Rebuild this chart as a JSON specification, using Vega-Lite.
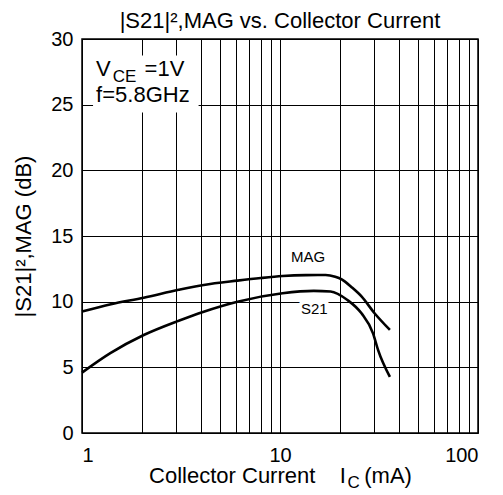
{
  "$schema": "https://vega.github.io/schema/vega-lite/v6.json",
  "width": 396,
  "height": 394,
  "autosize": "none",
  "padding": {"left": 82, "top": 39, "right": 25, "bottom": 62},
  "background": "white",
  "config": {
    "font": "Liberation Sans",
    "view": {"stroke": "black", "strokeWidth": 1.5},
    "axis": {
      "grid": true, "gridColor": "black", "gridWidth": 1, "gridOpacity": 1,
      "ticks": false, "domain": false,
      "labelColor": "black", "labelFontSize": 20, "labelFont": "Liberation Sans",
      "titleColor": "black", "titleFontSize": 22, "titleFontWeight": "normal", "titleFont": "Liberation Sans"
    }
  },
  "title": {"text": "|S21|²,MAG vs. Collector Current", "fontSize": 22, "fontWeight": "normal", "color": "black", "offset": -4, "font": "Liberation Sans"},
  "datasets": {
    "curves": [
      {"ic": 1, "db": 9.25, "series": "MAG"},
      {"ic": 1.4, "db": 9.8, "series": "MAG"},
      {"ic": 2.05, "db": 10.3, "series": "MAG"},
      {"ic": 3.08, "db": 10.9, "series": "MAG"},
      {"ic": 4.12, "db": 11.27, "series": "MAG"},
      {"ic": 6.1, "db": 11.6, "series": "MAG"},
      {"ic": 8, "db": 11.8, "series": "MAG"},
      {"ic": 10.3, "db": 11.95, "series": "MAG"},
      {"ic": 13.5, "db": 12.02, "series": "MAG"},
      {"ic": 17, "db": 12.03, "series": "MAG"},
      {"ic": 19, "db": 11.9, "series": "MAG"},
      {"ic": 20.5, "db": 11.7, "series": "MAG"},
      {"ic": 23, "db": 11.1, "series": "MAG"},
      {"ic": 25.8, "db": 10.4, "series": "MAG"},
      {"ic": 30.1, "db": 9.1, "series": "MAG"},
      {"ic": 35.9, "db": 7.85, "series": "MAG"},
      {"ic": 1, "db": 4.6, "series": "S21"},
      {"ic": 1.39, "db": 6.08, "series": "S21"},
      {"ic": 2.05, "db": 7.46, "series": "S21"},
      {"ic": 3.08, "db": 8.55, "series": "S21"},
      {"ic": 4.12, "db": 9.24, "series": "S21"},
      {"ic": 6.1, "db": 10.0, "series": "S21"},
      {"ic": 10.3, "db": 10.64, "series": "S21"},
      {"ic": 14.8, "db": 10.82, "series": "S21"},
      {"ic": 18, "db": 10.78, "series": "S21"},
      {"ic": 21.9, "db": 10.13, "series": "S21"},
      {"ic": 25.8, "db": 9.11, "series": "S21"},
      {"ic": 29.5, "db": 7.59, "series": "S21"},
      {"ic": 31.3, "db": 6.31, "series": "S21"},
      {"ic": 35.9, "db": 4.27, "series": "S21"}
    ],
    "box": [{"x1": 1.137, "x2": 3.88, "y1": 24.4, "y2": 28.75}],
    "bigtext": [
      {"ic": 1.178, "db": 27.15, "label": "V"},
      {"ic": 2.07, "db": 27.15, "label": "=1V"},
      {"ic": 1.178, "db": 25.17, "label": "f=5.8GHz"}
    ],
    "subtext": [
      {"ic": 1.43, "db": 26.75, "label": "CE"},
      {"ic": 21.9, "db": -4.22, "label": "C"}
    ],
    "curvelabels": [
      {"ic": 13.87, "db": 13.37, "label": "MAG"},
      {"ic": 14.89, "db": 9.43, "label": "S21"}
    ]
  },
  "layer": [
    {
      "data": {"name": "box"},
      "mark": {"type": "rect", "fill": "white", "stroke": null},
      "encoding": {
        "x": {"field": "x1", "type": "quantitative", "scale": {"type": "log", "domain": [1, 100], "nice": false},
              "axis": {"values": [1,2,3,4,5,6,7,8,9,10,20,30,40,50,60,70,80,90,100],
                       "labelExpr": "datum.value == 1 || datum.value == 10 || datum.value == 100 ? format(datum.value, 'd') : ''",
                       "labelPadding": 12, "title": "Collector Current\u00a0\u00a0\u00a0\u00a0I\u00a0\u00a0\u00a0(mA)", "titlePadding": 0}},
        "x2": {"field": "x2"},
        "y": {"field": "y1", "type": "quantitative", "scale": {"domain": [0, 30], "nice": false},
              "axis": {"values": [0,5,10,15,20,25,30], "labelPadding": 9, "title": "|S21|²,MAG (dB)", "titlePadding": 15}},
        "y2": {"field": "y2"}
      }
    },
    {
      "data": {"name": "curvelabels"},
      "transform": [{"filter": "datum.label == 'S21'"}],
      "mark": {"type": "text", "fontSize": 15, "fill": "white", "stroke": "white", "strokeWidth": 8, "align": "center", "baseline": "middle"},
      "encoding": {
        "x": {"field": "ic", "type": "quantitative"},
        "y": {"field": "db", "type": "quantitative"},
        "text": {"field": "label"}
      }
    },
    {
      "data": {"name": "curves"},
      "mark": {"type": "line", "color": "black", "strokeWidth": 2.6, "interpolate": "monotone"},
      "encoding": {
        "x": {"field": "ic", "type": "quantitative"},
        "y": {"field": "db", "type": "quantitative"},
        "detail": {"field": "series"}
      }
    },
    {
      "data": {"name": "curvelabels"},
      "mark": {"type": "text", "fontSize": 15, "color": "black", "align": "center", "baseline": "middle"},
      "encoding": {
        "x": {"field": "ic", "type": "quantitative"},
        "y": {"field": "db", "type": "quantitative"},
        "text": {"field": "label"}
      }
    },
    {
      "data": {"name": "bigtext"},
      "mark": {"type": "text", "fontSize": 22, "color": "black", "align": "left", "baseline": "alphabetic"},
      "encoding": {
        "x": {"field": "ic", "type": "quantitative"},
        "y": {"field": "db", "type": "quantitative"},
        "text": {"field": "label"}
      }
    },
    {
      "data": {"name": "subtext"},
      "mark": {"type": "text", "fontSize": 17, "color": "black", "align": "left", "baseline": "alphabetic"},
      "encoding": {
        "x": {"field": "ic", "type": "quantitative"},
        "y": {"field": "db", "type": "quantitative"},
        "text": {"field": "label"}
      }
    }
  ]
}
